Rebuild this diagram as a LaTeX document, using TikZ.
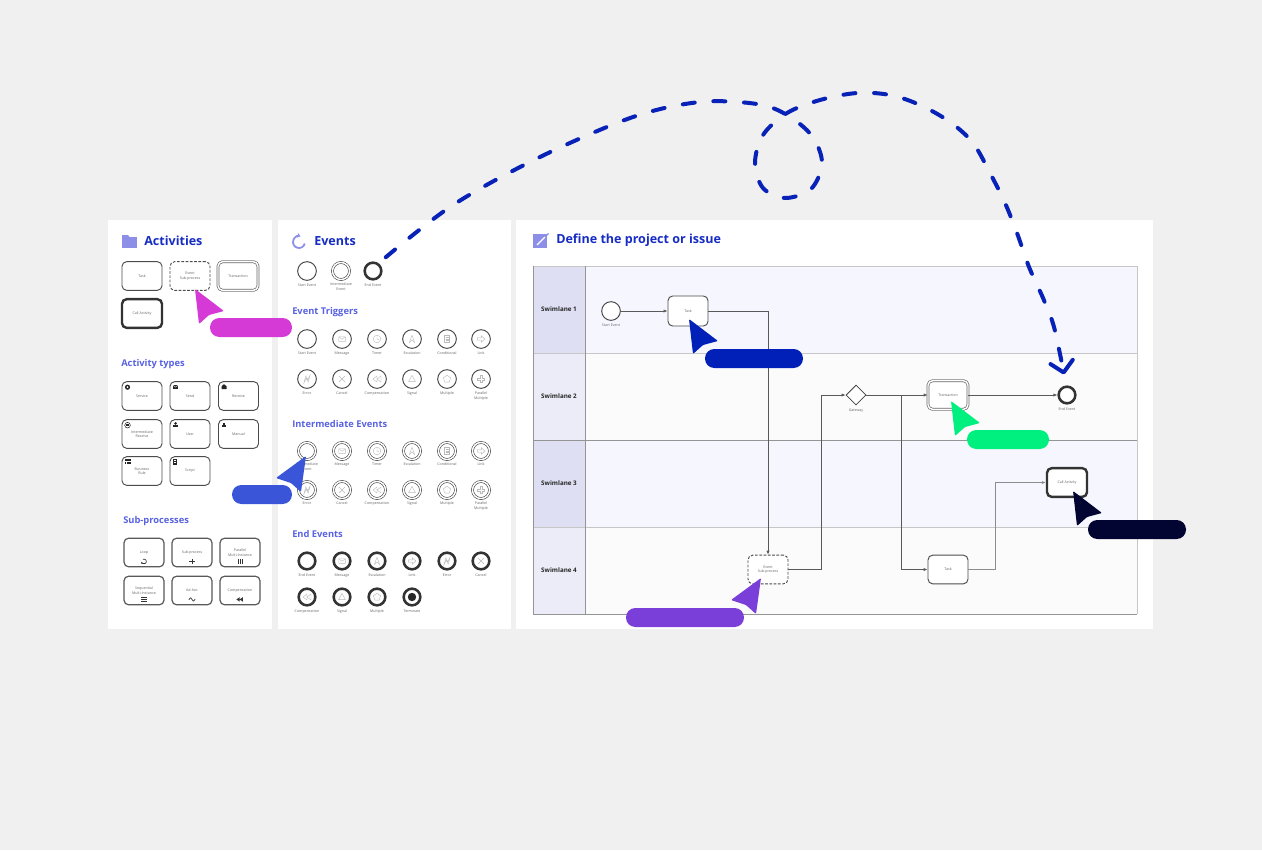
\documentclass[tikz,border=0pt]{standalone}
\usepackage{fontspec}
\setmainfont{Open Sans}
\usetikzlibrary{shapes.geometric, arrows.meta, positioning}
\definecolor{canvasgray}{RGB}{240,240,240}
\definecolor{titleblue}{RGB}{22,44,196}
\definecolor{headblue}{RGB}{88,98,226}
\definecolor{iconlav}{RGB}{140,142,232}
\definecolor{laneheadA}{RGB}{222,223,243}
\definecolor{laneheadB}{RGB}{236,236,248}
\definecolor{lanebodyA}{RGB}{246,247,254}
\definecolor{lanebodyB}{RGB}{251,251,251}
\definecolor{curveblue}{RGB}{8,34,184}
\definecolor{cmagenta}{RGB}{214,58,214}
\definecolor{cblue}{RGB}{59,85,217}
\definecolor{cdarkblue}{RGB}{0,32,184}
\definecolor{cgreen}{RGB}{0,240,128}
\definecolor{cnavy}{RGB}{2,4,50}
\definecolor{cpurple}{RGB}{123,63,217}
\newcommand\fTiny{\fontsize{2.7}{3.3}\selectfont}
\newcommand\fTitle{\fontsize{9.4}{11}\selectfont\bfseries}
\newcommand\fHead{\fontsize{7}{8.4}\selectfont\bfseries}
\newcommand\fLane{\fontsize{4.7}{5.6}\selectfont\bfseries}
\tikzset{
  basebox/.style={rectangle, rounded corners=3.5pt, draw=black!70, line width=0.7pt, fill=white,
    align=center, font=\fTiny, text=black!60, minimum width=30pt, minimum height=21.5pt, inner sep=0.5pt},
  taskbox/.style={basebox},
  esubbox/.style={basebox, dash pattern=on 2pt off 1.2pt},
  transbox/.style={basebox, draw=black!60, line width=0.5pt, double=white, double distance=1.1pt},
  callbox/.style={basebox, draw=black!80, line width=1.8pt},
  subbox/.style={basebox, draw=black!65, line width=0.9pt},
  evt/.style={circle, draw=black!75, line width=0.7pt, fill=white, minimum size=14pt, inner sep=0pt},
  evint/.style={evt, line width=0.45pt, double=white, double distance=1.1pt, minimum size=12.8pt},
  evend/.style={evt, line width=1.9pt, draw=black!80, minimum size=12.5pt},
  gwy/.style={diamond, draw=black!75, line width=0.6pt, fill=white, minimum size=15pt, inner sep=0pt},
  evlab/.style={font=\fTiny, text=black!60, align=center, inner sep=0.3pt},
  title/.style={font=\fTitle, text=titleblue, anchor=west, inner sep=0pt},
  heading/.style={font=\fHead, text=headblue, anchor=west, inner sep=0pt},
  lanelab/.style={font=\fLane, text=black!85},
  flow/.style={-{Latex[length=3pt,width=2.4pt]}, draw=black!65, line width=0.5pt},
  mkline/.style={draw=black!27, line width=0.3pt},
  mkdark/.style={draw=black!80, line width=0.5pt},
  curve/.style={draw=curveblue, line width=3pt, line cap=round, dash pattern=on 9pt off 14pt,
    -{Straight Barb[round, length=8pt, width=17pt]}},
  pill/.style={rounded corners=7pt}
}
\newcommand\mknone[1]{}
\newcommand\mkmsg[1]{\draw[mkline, shift={(#1)}] (-3.3,-2.3) rectangle (3.3,2.3) (-3.3,-2.3) -- (0,0.3) -- (3.3,-2.3);}
\newcommand\mktimer[1]{\draw[mkline, shift={(#1)}] (0,0) circle (3.8) (0,-2.6) -- (0,0) -- (2,0.8);}
\newcommand\mkesc[1]{\draw[mkline, shift={(#1)}] (0,-3.8) -- (2.6,3.4) -- (0,0.8) -- (-2.6,3.4) -- cycle;}
\newcommand\mkcond[1]{\draw[mkline, shift={(#1)}] (-2.6,-3.6) rectangle (2.6,3.6) (-1.5,-1.6) -- (1.5,-1.6) (-1.5,0) -- (1.5,0) (-1.5,1.6) -- (1.5,1.6);}
\newcommand\mklink[1]{\draw[mkline, shift={(#1)}] (-3.6,-1.2) -- (0.4,-1.2) -- (0.4,-3.2) -- (3.8,0) -- (0.4,3.2) -- (0.4,1.2) -- (-3.6,1.2) -- cycle;}
\newcommand\mkerr[1]{\draw[mkline, shift={(#1)}] (-3,3.6) -- (-1.2,-3) -- (0.8,0.6) -- (3,-3.6) -- (1.2,3) -- (-0.8,-0.6) -- cycle;}
\newcommand\mkcancel[1]{\draw[mkline, shift={(#1)}] (-3,-3) -- (3,3) (-3,3) -- (3,-3);}
\newcommand\mkcomp[1]{\draw[mkline, shift={(#1)}] (-4,0) -- (0,-3) -- (0,3) -- cycle (0,0) -- (4,-3) -- (4,3) -- cycle;}
\newcommand\mksig[1]{\draw[mkline, shift={(#1)}] (0,-3.6) -- (3.4,2.6) -- (-3.4,2.6) -- cycle;}
\newcommand\mkmult[1]{\draw[mkline, shift={(#1)}] (0,-3.8) -- (3.6,-1.2) -- (2.2,3.1) -- (-2.2,3.1) -- (-3.6,-1.2) -- cycle;}
\newcommand\mkpmult[1]{\draw[mkline, shift={(#1)}] (-1,-3.6) -- (1,-3.6) -- (1,-1) -- (3.6,-1) -- (3.6,1) -- (1,1) -- (1,3.6) -- (-1,3.6) -- (-1,1) -- (-3.6,1) -- (-3.6,-1) -- (-1,-1) -- cycle;}
\newcommand\mkterm[1]{\fill[black!85, shift={(#1)}] (0,0) circle (4.2);}
\newcommand\cursorL[2]{\fill[#2, rounded corners=0.8pt, shift={(#1)}] (0,0) -- (4,35) -- (14,26) -- (29,22) -- cycle;}
\newcommand\cursorR[2]{\fill[#2, rounded corners=0.8pt, shift={(#1)}] (0,0) -- (-5,36) -- (-15,27) -- (-30,22) -- cycle;}

\begin{document}
\begin{tikzpicture}[x=0.75pt, y=-0.75pt]
\fill[canvasgray] (0,0) rectangle (1262,850);
\fill[white] (108,220) rectangle (272,629);
\fill[white] (278,220) rectangle (511,629);
\fill[white] (516,220) rectangle (1153,629);

% activities
\fill[iconlav] (122,237) rectangle (137,248);
\fill[iconlav] (122,235) -- (128,235) -- (130,237.5) -- (122,237.5) -- cycle;
\node[title] (actTitle) at (144,241) {Activities};
\node[taskbox] (aTask) at (142,276) {Task};
\node[esubbox] (aEsub) at (190,276) {Event\\Sub-process};
\node[transbox] (aTrans) at (238,276) {Transaction};
\node[callbox] (aCall) at (142,313.5) {Call Activity};

\node[heading] (typTitle) at (121,364) {Activity types};
\foreach \x/\y/\lab/\nm in {142/396/Service/tServ, 190/396/Send/tSend, 238.5/396/Receive/tRecv,
    142/434/Intermediate\\Receive/tIRecv, 190/434/User/tUser, 238.5/434/Manual/tMan,
    142/471/Business\\Rule/tRule, 190/471/Script/tScript}
  \node[taskbox] (\nm) at (\x,\y) {\lab};
\begin{scope}[shift={(tServ.north west)}]
  \fill[black!85] (6,6) circle (2.6); \fill[white] (6,6) circle (1);
\end{scope}
\begin{scope}[shift={(tSend.north west)}]
  \fill[black!85] (3.5,4) rectangle (8.5,7.5); \draw[white, line width=0.3pt] (3.5,4) -- (6,6) -- (8.5,4);
\end{scope}
\begin{scope}[shift={(tRecv.north west)}]
  \fill[black!85] (3.5,5) -- (6,3) -- (8.5,5) -- (8.5,8) -- (3.5,8) -- cycle;
\end{scope}
\begin{scope}[shift={(tIRecv.north west)}]
  \draw[black!85, line width=0.4pt] (6,6) circle (2.8); \fill[black!85] (4.5,5.2) rectangle (7.5,7);
\end{scope}
\begin{scope}[shift={(tUser.north west)}]
  \fill[black!85] (6,4.2) circle (1.4); \fill[black!85] (3.6,8) rectangle (8.4,6);
\end{scope}
\begin{scope}[shift={(tMan.north west)}]
  \fill[black!85] (3.5,5.5) rectangle (7.5,7.5); \fill[black!85] (4.5,4) rectangle (6.5,5.5);
\end{scope}
\begin{scope}[shift={(tRule.north west)}]
  \fill[black!85] (3,3) rectangle (9.5,7.5); \draw[white, line width=0.3pt] (3,4.6) -- (9.5,4.6) (5,4.6) -- (5,7.5);
\end{scope}
\begin{scope}[shift={(tScript.north west)}]
  \draw[black!85, line width=0.5pt] (4,3) rectangle (7,8.5); \draw[black!85, line width=0.3pt] (4.8,4.8) -- (6.2,4.8) (4.8,6.5) -- (6.2,6.5);
\end{scope}

\node[heading] (subTitle) at (123,521) {Sub-processes};
\foreach \x/\y/\lab/\nm in {144/552.5/Loop/sLoop, 192/552.5/Sub-process/sSub, 240/552.5/Parallel\\Multi-instance/sPar,
    144/590.5/Sequential\\Multi-instance/sSeq, 192/590.5/Ad-hoc/sAdhoc, 240/590.5/Compensation/sComp}
  \node[subbox] (\nm) at (\x,\y) {\lab};
\draw[mkdark, -{Stealth[length=1.4pt,width=1.6pt]}] ([shift={(120:1.8pt)}]sLoop.south) ++(0,-6) arc[start angle=120, end angle=-170, radius=1.8pt];
\begin{scope}[shift={(sSub.south)}]
  \draw[mkdark] (-2.6,-6) -- (2.6,-6) (0,-8.6) -- (0,-3.4);
\end{scope}
\begin{scope}[shift={(sPar.south)}]
  \draw[mkdark] (-2,-8.6) -- (-2,-3.4) (0,-8.6) -- (0,-3.4) (2,-8.6) -- (2,-3.4);
\end{scope}
\begin{scope}[shift={(sSeq.south)}]
  \draw[mkdark] (-3,-8) -- (3,-8) (-3,-6) -- (3,-6) (-3,-4) -- (3,-4);
\end{scope}
\begin{scope}[shift={(sAdhoc.south)}]
  \draw[mkdark] (-3.2,-5.5) .. controls (-1.6,-8.5) and (-0.6,-8) .. (0,-6) .. controls (0.6,-4) and (1.6,-3.5) .. (3.2,-6.5);
\end{scope}
\begin{scope}[shift={(sComp.south)}]
  \fill[black!80] (-3.6,-6) -- (-0.4,-8.2) -- (-0.4,-3.8) -- cycle (-0.4,-6) -- (2.8,-8.2) -- (2.8,-3.8) -- cycle;
\end{scope}

% events
\draw[iconlav, line width=1.3pt, -{Stealth[length=2.6pt,width=3.8pt]}] ([shift={(-15:4.5pt)}]299,242) arc[start angle=-15, end angle=-285, radius=4.5pt];
\node[title] (evTitle) at (314,241) {Events};
\node[evt] (evS) at (307,271) {};
\node[evint] (evI) at (341,271) {};
\node[evend] (evE) at (373,271) {};
\node[evlab, below=2pt of evS] {Start Event};
\node[evlab, below=2pt of evI] {Intermediate\\Event};
\node[evlab, below=2pt of evE] {End Event};

\node[heading] (trigTitle) at (292,312) {Event Triggers};
\foreach \x/\mk/\lab [count=\i] in {307/none/Start Event, 342/msg/Message, 377/timer/Timer, 412/esc/Escalation, 447/cond/Conditional, 481/link/Link}{
  \node[evt] (trA\i) at (\x,339) {};
  \csname mk\mk\endcsname{trA\i}
  \node[evlab, below=2pt of trA\i] {\lab};
}
\foreach \x/\mk/\lab [count=\i] in {307/err/Error, 342/cancel/Cancel, 377/comp/Compensation, 412/sig/Signal, 447/mult/Multiple, 481/pmult/Parallel\\Multiple}{
  \node[evt] (trB\i) at (\x,379) {};
  \csname mk\mk\endcsname{trB\i}
  \node[evlab, below=2pt of trB\i] {\lab};
}

\node[heading] (intTitle) at (292,424) {Intermediate Events};
\foreach \x/\mk/\lab [count=\i] in {307/none/Intermediate\\Event, 342/msg/Message, 377/timer/Timer, 412/esc/Escalation, 447/cond/Conditional, 481/link/Link}{
  \node[evint] (imA\i) at (\x,451) {};
  \csname mk\mk\endcsname{imA\i}
  \node[evlab, below=2pt of imA\i] {\lab};
}
\foreach \x/\mk/\lab [count=\i] in {307/err/Error, 342/cancel/Cancel, 377/comp/Compensation, 412/sig/Signal, 447/mult/Multiple, 481/pmult/Parallel\\Multiple}{
  \node[evint] (imB\i) at (\x,490) {};
  \csname mk\mk\endcsname{imB\i}
  \node[evlab, below=2pt of imB\i] {\lab};
}

\node[heading] (endTitle) at (292,534) {End Events};
\foreach \x/\mk/\lab [count=\i] in {307/none/End Event, 342/msg/Message, 377/esc/Escalation, 412/link/Link, 447/err/Error, 481/cancel/Cancel}{
  \node[evend] (enA\i) at (\x,561) {};
  \csname mk\mk\endcsname{enA\i}
  \node[evlab, below=2pt of enA\i] {\lab};
}
\foreach \x/\mk/\lab [count=\i] in {307/comp/Compensation, 342/sig/Signal, 377/mult/Multiple, 412/term/Terminate}{
  \node[evend] (enB\i) at (\x,597) {};
  \csname mk\mk\endcsname{enB\i}
  \node[evlab, below=2pt of enB\i] {\lab};
}

% define the project
\fill[iconlav] (533,234) rectangle (547,248);
\draw[white, line width=1pt] (537,245) -- (545,237);
\draw[iconlav, line width=1pt] (545,237) -- (548.5,233.5);
\node[title] (mainTitle) at (556,240) {Define the project or issue};

\foreach \n/\yt/\hc/\bc in {1/266/laneheadA/lanebodyA, 2/353/laneheadB/lanebodyB, 3/440/laneheadA/lanebodyA, 4/527/laneheadB/lanebodyB}{
  \fill[\hc] (533,\yt) rectangle (585,\yt+87);
  \fill[\bc] (585,\yt) rectangle (1137,\yt+87);
  \node[lanelab] (sw\n) at (559,\yt+43.5) {Swimlane \n};
}
\draw[black!22, line width=0.6pt] (533,266) -- (1137,266) -- (1137,614) (533,353) -- (1137,353) (533,527) -- (1137,527);
\draw[black!42, line width=0.6pt] (533,440) -- (1137,440) (533,614) -- (1137,614) (533,266) -- (533,614) (585,266) -- (585,614);

\node[evt] (lStart) at (611,311) {};
\node[evlab, below=2pt of lStart] {Start Event};
\node[taskbox, minimum height=22.5pt] (lTask1) at (688,311) {Task};
\node[esubbox] (lEsub) at (768,569.5) {Event\\Sub-process};
\node[gwy] (lGw) at (856,395) {};
\node[evlab, below=2pt of lGw] {Gateway};
\node[transbox] (lTrans) at (948,395) {Transaction};
\node[evend] (lEnd) at (1067,395) {};
\node[evlab, below=2pt of lEnd] {End Event};
\node[taskbox] (lTask2) at (948,569.5) {Task};
\node[callbox] (lCall) at (1067,482.5) {Call Activity};
\coordinate (jA) at (821,395);
\coordinate (jB) at (901,395);
\coordinate (jC) at (995,482.5);
\draw[flow] (lStart) -- (lTask1);
\draw[flow] (lTask1.east) -| (lEsub.north);
\draw[flow] (lEsub.east) -| (jA) -- (lGw.west);
\draw[flow] (lGw.east) -- (lTrans.west);
\draw[flow] (jB) |- (lTask2.west);
\draw[flow] (lTrans.east) -- (lEnd.west);
\draw[flow, draw=black!45] (lTask2.east) -| (jC) -- (lCall.west);

% dashed link
\coordinate (cStart) at ([shift={(6,-7)}]evE.45);
\coordinate (cEnd) at ([shift={(-3,-11)}]lEnd.north);
\draw[curve] plot[smooth, tension=0.55] coordinates {(cStart) (453,205) (540,157) (633,117) (700,102) (757,104)
  (787,115) (812,136) (822,163) (811,189) (785,198) (763,188) (755,163) (763,135) (787,113)
  (820,100) (857,93) (890,95) (920,105) (950,122) (973,143) (990,173) (1005,203) (1017,233)
  (1029,267) (1043,298) (1054,327) (cEnd)};

% cursors
\fill[cmagenta, pill] (210,318) rectangle (292,337);
\cursorL{195,289}{cmagenta}
\fill[cblue, pill] (232,485) rectangle (292,504);
\cursorR{306,456}{cblue}
\fill[cdarkblue, pill] (705,349) rectangle (803,368);
\cursorL{689,319}{cdarkblue}
\fill[cgreen, pill] (967,430) rectangle (1049,449);
\cursorL{951,401}{cgreen}
\fill[cnavy, pill] (1088,520) rectangle (1186,539);
\cursorL{1073,491}{cnavy}
\fill[cpurple, pill] (626,608) rectangle (744,627);
\cursorR{761,578}{cpurple}
\end{tikzpicture}
\end{document}
